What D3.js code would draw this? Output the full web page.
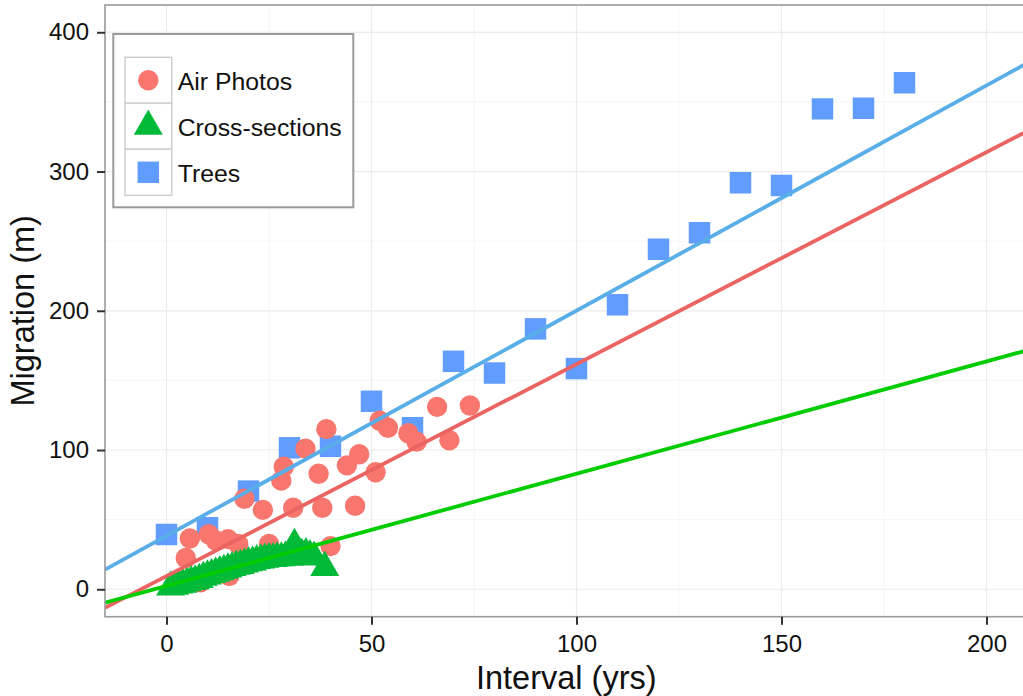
<!DOCTYPE html>
<html>
<head>
<meta charset="utf-8">
<script src="https://cdn.jsdelivr.net/npm/d3@7"></script>
<style>
  html, body { margin: 0; padding: 0; background: #fff; }
  svg { display: block; font-family: "Liberation Sans", Arial, Helvetica, sans-serif; }
</style>
</head>
<body>
<svg id="chart" width="1023" height="696"></svg>
<script>
// ---------------- data ----------------
const seriesNames = ["Air Photos", "Cross-sections", "Trees"];
const seriesColors = ["#F8766D", "#00BA38", "#619CFF"];
const lineColors = ["#EC6461", "#00CC00", "#5AAEE8"];

const airX = [4.7, 5.7, 8.3, 10.3, 12, 15, 15.3, 17.5, 19, 23.5, 25, 28, 28.6, 30.9, 33.9, 37.1, 38, 39, 40, 44, 46, 47, 51, 52, 54, 59, 61, 66, 69, 74];
const airY = [22.5, 36.5, 5, 39.5, 35, 36, 9.5, 32.5, 65, 57, 32.5, 78, 88, 58.5, 101, 83, 58.5, 115, 31, 89, 60, 97, 84, 121, 116, 112, 106, 131, 107, 132];

const crossX = [1, 2, 3, 4, 5, 6, 7, 8, 9, 10, 11, 12, 13, 14, 15, 16, 17, 18, 19, 20, 21, 22, 23, 24, 25, 26, 27, 28, 29, 30, 31.2, 32, 33, 34, 35, 36, 38.6];
const crossY = [1.5, 2, 3, 3.5, 4.5, 5.5, 6, 7, 8.5, 9.5, 10.5, 11.5, 12.5, 13.5, 14.5, 15.5, 16.5, 17, 18, 19, 19.5, 20.5, 21, 21.5, 22, 22, 22.5, 22.5, 23, 23, 32.2, 24, 25, 25.5, 24, 23, 15.6];

const treesX = [0, 10, 20, 30, 40, 50, 60, 70, 80, 90, 100, 110, 120, 130, 140, 150, 160, 170, 180];
const treesY = [39.4, 44.2, 70.5, 101.6, 102.7, 135, 116, 163.7, 155.3, 187, 158.5, 204.3, 244.2, 256, 292, 290, 345, 345.5, 363.7];

// fitted lines (intercept, slope) per series
const fitIntercepts = [9.5, 2.4, 38.4];
const fitSlopes = [1.522, 0.806, 1.617];

const xTicks = [0, 50, 100, 150, 200];
const xMinor = [25, 75, 125, 175];
const yTicks = [0, 100, 200, 300, 400];
const yMinor = [50, 150, 250, 350];
const xDomain = [-15, 210];
const yDomain = [-19.7, 419.6];

// ---------------- layout ----------------
const W = 1023, H = 696;
const P = { left: 105, right: 1027.5, top: 5, bottom: 616.7 };
const svg = d3.select("#chart");
svg.append("rect").attr("width", W).attr("height", H).attr("fill", "#fff");

const x = d3.scaleLinear().domain(xDomain).range([P.left, P.right]);
const y = d3.scaleLinear().domain(yDomain).range([P.bottom, P.top]);

svg.append("defs").append("clipPath").attr("id", "clip")
  .append("rect").attr("x", P.left).attr("y", P.top)
  .attr("width", P.right - P.left).attr("height", P.bottom - P.top);

svg.append("rect").attr("x", P.left).attr("y", P.top)
  .attr("width", P.right - P.left).attr("height", P.bottom - P.top).attr("fill", "#fff");

// grid
const grid = svg.append("g");
grid.selectAll(".xm").data(xMinor).join("line")
  .attr("x1", d => x(d)).attr("x2", d => x(d)).attr("y1", P.top).attr("y2", P.bottom)
  .attr("stroke", "#F5F5F5").attr("stroke-width", 1);
grid.selectAll(".ym").data(yMinor).join("line")
  .attr("y1", d => y(d)).attr("y2", d => y(d)).attr("x1", P.left).attr("x2", P.right)
  .attr("stroke", "#F5F5F5").attr("stroke-width", 1);
grid.selectAll(".xM").data(xTicks).join("line")
  .attr("x1", d => x(d)).attr("x2", d => x(d)).attr("y1", P.top).attr("y2", P.bottom)
  .attr("stroke", "#EBEBEB").attr("stroke-width", 1.2);
grid.selectAll(".yM").data(yTicks).join("line")
  .attr("y1", d => y(d)).attr("y2", d => y(d)).attr("x1", P.left).attr("x2", P.right)
  .attr("stroke", "#EBEBEB").attr("stroke-width", 1.2);

const plot = svg.append("g").attr("clip-path", "url(#clip)");

const trees = treesX.map((v, i) => ({ x: v, y: treesY[i] }));
const air = airX.map((v, i) => ({ x: v, y: airY[i] }));
const cross = crossX.map((v, i) => ({ x: v, y: crossY[i] }));

plot.selectAll(".sq").data(trees).join("path")
  .attr("d", d3.symbol(d3.symbolSquare, 462)())
  .attr("transform", d => `translate(${x(d.x)},${y(d.y)})`)
  .attr("fill", seriesColors[2]);
plot.selectAll(".ci").data(air).join("circle")
  .attr("cx", d => x(d.x)).attr("cy", d => y(d.y)).attr("r", 10.2)
  .attr("fill", seriesColors[0]);
plot.selectAll(".tr").data(cross).join("path")
  .attr("d", d3.symbol(d3.symbolTriangle, 364)())
  .attr("transform", d => `translate(${x(d.x)},${y(d.y)})`)
  .attr("fill", seriesColors[1]);

[0, 2, 1].forEach(i => {
  const pts = xDomain.map(v => [v, fitIntercepts[i] + fitSlopes[i] * v]);
  plot.append("path")
    .attr("d", d3.line().x(d => x(d[0])).y(d => y(d[1]))(pts))
    .attr("stroke", lineColors[i]).attr("stroke-width", 3.8).attr("fill", "none");
});

svg.append("rect").attr("x", P.left).attr("y", P.top)
  .attr("width", P.right - P.left).attr("height", P.bottom - P.top)
  .attr("fill", "none").attr("stroke", "#9A9A9A").attr("stroke-width", 1.6);

// axes
const xAxis = svg.append("g").attr("transform", `translate(0,${P.bottom})`)
  .call(d3.axisBottom(x).tickValues(xTicks).tickSize(8).tickPadding(10).tickSizeOuter(0));
const yAxis = svg.append("g").attr("transform", `translate(${P.left},0)`)
  .call(d3.axisLeft(y).tickValues(yTicks).tickSize(8).tickPadding(8).tickSizeOuter(0));
[xAxis, yAxis].forEach(g => {
  g.select(".domain").remove();
  g.selectAll(".tick line").attr("stroke", "#333").attr("stroke-width", 2);
  g.selectAll(".tick text").attr("fill", "#111").attr("font-size", 24)
    .attr("font-family", '"Liberation Sans", Arial, sans-serif');
});

svg.append("text").attr("x", (P.left + P.right) / 2).attr("y", 689)
  .attr("text-anchor", "middle").attr("font-size", 32.5).attr("fill", "#111")
  .text("Interval (yrs)");
svg.append("text").attr("transform", `translate(34,${(P.top + P.bottom) / 2}) rotate(-90)`)
  .attr("text-anchor", "middle").attr("font-size", 32.5).attr("fill", "#111")
  .text("Migration (m)");

// legend
const lg = svg.append("g");
lg.append("rect").attr("x", 113.3).attr("y", 34).attr("width", 240).attr("height", 173.3)
  .attr("fill", "#fff").attr("stroke", "#9A9A9A").attr("stroke-width", 2);
const rowY = [57.3, 103.3, 149.3];
const rowH = 46;
const shapes = [d3.symbol(d3.symbolCircle, Math.PI * 10.2 * 10.2)(), d3.symbol(d3.symbolTriangle, 364)(), d3.symbol(d3.symbolSquare, 462)()];
seriesNames.forEach((name, i) => {
  lg.append("rect").attr("x", 125).attr("y", rowY[i]).attr("width", 46.7).attr("height", rowH)
    .attr("fill", "#fff").attr("stroke", "#CFCFCF").attr("stroke-width", 1.5);
  lg.append("path").attr("d", shapes[i])
    .attr("transform", `translate(148.3,${rowY[i] + rowH / 2})`)
    .attr("fill", seriesColors[i]);
  lg.append("text").attr("x", 177.7).attr("y", rowY[i] + rowH / 2 + 9.5)
    .attr("font-size", 24.8).attr("fill", "#111").text(name);
});
</script>
</body>
</html>
